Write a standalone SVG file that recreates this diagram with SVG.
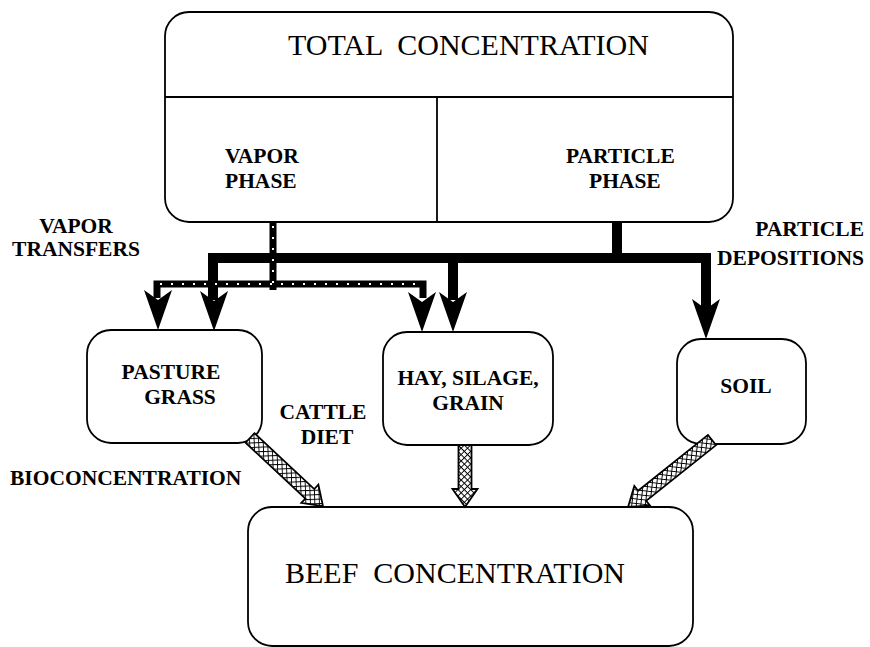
<svg xmlns="http://www.w3.org/2000/svg" width="870" height="647" viewBox="0 0 870 647">
<style>
.box{fill:#fff;stroke:#000;stroke-width:1.8}
.t{font-family:"Liberation Serif","Times New Roman",serif;fill:#000}
.lb{font-size:21.5px;font-weight:bold}
.big{font-size:30px;white-space:pre}
.blk{stroke:#000;stroke-width:10;fill:none}
.vap{stroke:#000;stroke-width:7;fill:none}
.vapd{stroke:#fff;stroke-width:2;fill:none;stroke-dasharray:2 9}
.hatch{fill:url(#xh);stroke:#000;stroke-width:1.8;stroke-linejoin:miter}
</style>
<defs>
<pattern id="xh" width="4.5" height="4.5" patternUnits="userSpaceOnUse" patternTransform="rotate(45)">
<rect width="4.5" height="4.5" fill="#fff"/>
<path d="M0 0H4.5M0 0V4.5" stroke="#000" stroke-width="2"/>
</pattern>
<path id="ahead" d="M-14 -40 L0 0 L14 -40 L0 -30 Z" fill="#000"/>
</defs>

<g id="total">
<rect class="box" x="165" y="12" width="568" height="210" rx="24"/>
<line x1="165" y1="97" x2="733" y2="97" stroke="#000" stroke-width="1.8"/>
<line x1="437" y1="97" x2="437" y2="222" stroke="#000" stroke-width="1.8"/>
<text class="t big" x="288" y="55" xml:space="preserve">TOTAL  CONCENTRATION</text>
<text class="t lb" x="225" y="163">VAPOR</text>
<text class="t lb" x="225" y="188">PHASE</text>
<text class="t lb" x="566" y="163">PARTICLE</text>
<text class="t lb" x="589" y="188">PHASE</text>
</g>

<g id="pasture">
<rect class="box" x="87" y="330" width="175" height="113" rx="24"/>
<text class="t lb" x="171" y="379" text-anchor="middle">PASTURE</text>
<text class="t lb" x="180" y="404" text-anchor="middle">GRASS</text>
</g>

<g id="hay">
<rect class="box" x="383" y="332" width="170" height="113" rx="24"/>
<text class="t lb" x="468" y="385" text-anchor="middle">HAY, SILAGE,</text>
<text class="t lb" x="468" y="410" text-anchor="middle">GRAIN</text>
</g>

<g id="soil">
<rect class="box" x="677" y="339" width="129" height="105" rx="24"/>
<text class="t lb" x="746" y="393" text-anchor="middle">SOIL</text>
</g>

<g id="beef">
<rect class="box" x="248" y="507" width="445" height="139" rx="24"/>
<text class="t big" x="285" y="583" xml:space="preserve">BEEF  CONCENTRATION</text>
</g>

<g id="labels">
<text class="t lb" x="76" y="233" text-anchor="middle">VAPOR</text>
<text class="t lb" x="76" y="256" text-anchor="middle">TRANSFERS</text>
<text class="t lb" x="864" y="236" text-anchor="end">PARTICLE</text>
<text class="t lb" x="864" y="265" text-anchor="end">DEPOSITIONS</text>
<text class="t lb" x="323" y="419" text-anchor="middle">CATTLE</text>
<text class="t lb" x="327" y="444" text-anchor="middle">DIET</text>
<text class="t lb" x="10" y="485">BIOCONCENTRATION</text>
</g>

<g id="connectors">
<!-- particle depositions (solid black) -->
<path class="blk" d="M617 222 V258"/>
<path class="blk" d="M213 300 V258 H706 V310" stroke-linejoin="miter"/>
<path class="blk" d="M453 258 V300"/>
<use href="#ahead" transform="translate(214,331)"/>
<use href="#ahead" transform="translate(453,332)"/>
<use href="#ahead" transform="translate(706,339)"/>
<!-- vapor transfers (broken/hatched) -->
<path class="vap" d="M157 298 V284 H423 V298"/>
<path class="vap" d="M273 222 V290"/>
<path class="vapd" d="M160 284 H420"/>
<path class="vapd" d="M273 226 V288"/>
<use href="#ahead" transform="translate(158,330)"/>
<use href="#ahead" transform="translate(422,332)"/>
<!-- cattle diet (crosshatched fat arrows) -->
<polygon class="hatch" points="0,-6.5 81.8,-6.5 81.8,-12.5 99.8,0 81.8,12.5 81.8,6.5 0,6.5" transform="translate(250,438) rotate(43)"/>
<polygon class="hatch" points="0,-6.5 44,-6.5 44,-12.5 62,0 44,12.5 44,6.5 0,6.5" transform="translate(465,445) rotate(90)"/>
<polygon class="hatch" points="0,-6.5 89.4,-6.5 89.4,-12.5 107.4,0 89.4,12.5 89.4,6.5 0,6.5" transform="translate(712,440) rotate(141.4)"/>
</g>
</svg>
